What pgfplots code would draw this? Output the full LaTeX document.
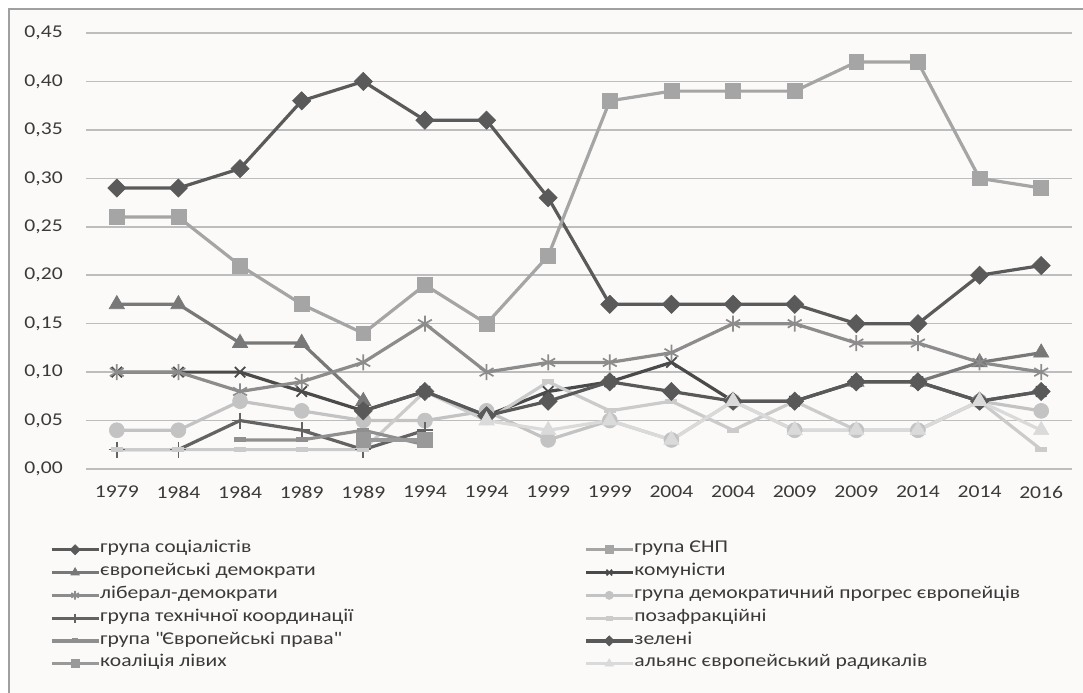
\documentclass[border=0pt]{standalone}
\usepackage{fontspec}
\setmainfont{Carlito}[FakeStretch=1.2]
\usepackage{pgfplots}
\usepackage{pgfplotstable}
\pgfplotsset{compat=1.18}
\pgfdeclarelayer{background}
\pgfsetlayers{background,main}
\definecolor{bgc}{HTML}{FCFAF8}
\definecolor{framec}{HTML}{A0A0A0}
\definecolor{gridc}{HTML}{BDBDBD}
\definecolor{textc}{HTML}{3A3A3A}
\definecolor{csoc}{HTML}{5A5A5A}
\definecolor{cenp}{HTML}{A5A5A5}
\definecolor{cedem}{HTML}{787878}
\definecolor{ccomm}{HTML}{4A4A4A}
\definecolor{clib}{HTML}{8C8C8C}
\definecolor{cprog}{HTML}{C3C3C3}
\definecolor{ctech}{HTML}{636363}
\definecolor{cnona}{HTML}{CBCBCB}
\definecolor{cright}{HTML}{8F8F8F}
\definecolor{cgreen}{HTML}{595959}
\definecolor{cleft}{HTML}{999999}
\definecolor{crad}{HTML}{DADADA}
\pgfplotstableread{
x soc enp edem comm lib prog tech nona eright green left rad
0 0.29 0.26 0.17 0.10 0.10 0.04 0.02 0.02 nan nan nan nan
1 0.29 0.26 0.17 0.10 0.10 0.04 0.02 0.02 nan nan nan nan
2 0.31 0.21 0.13 0.10 0.08 0.07 0.05 0.02 0.03 nan nan nan
3 0.38 0.17 0.13 0.08 0.09 0.06 0.04 0.02 0.03 nan nan nan
4 0.40 0.14 0.07 0.06 0.11 0.05 0.02 0.02 0.04 0.06 0.03 nan
5 0.36 0.19 nan 0.08 0.15 0.05 0.04 0.08 0.025 0.08 0.03 nan
6 0.36 0.15 nan 0.055 0.10 0.06 nan 0.05 nan 0.055 nan 0.05
7 0.28 0.22 nan 0.08 0.11 0.03 nan 0.09 nan 0.07 nan 0.04
8 0.17 0.38 nan 0.09 0.11 0.05 nan 0.06 nan 0.09 nan 0.05
9 0.17 0.39 nan 0.11 0.12 0.03 nan 0.07 nan 0.08 nan 0.03
10 0.17 0.39 nan 0.07 0.15 0.07 nan 0.04 nan 0.07 nan 0.07
11 0.17 0.39 nan 0.07 0.15 0.04 nan 0.07 nan 0.07 nan 0.04
12 0.15 0.42 0.09 0.09 0.13 0.04 nan 0.04 nan 0.09 nan 0.04
13 0.15 0.42 0.09 0.09 0.13 0.04 nan 0.04 nan 0.09 nan 0.04
14 0.20 0.30 0.11 0.07 0.11 0.07 nan 0.07 nan 0.07 nan 0.07
15 0.21 0.29 0.12 0.08 0.10 0.06 nan 0.02 nan 0.08 nan 0.04
}\data
\newcommand{\lc}[1]{\makebox[363pt][l]{#1}}
\begin{document}
\begin{tikzpicture}
\begin{axis}[
  name=ax,
  scale only axis, width=739.5pt, height=327pt,
  xmin=-0.5, xmax=15.5, ymin=0, ymax=0.45,
  unbounded coords=jump,
  axis line style={draw=none},
  major tick length=0pt,
  ymajorgrids, grid style={gridc, line width=1.2pt},
  ytick={0,0.05,0.1,0.15,0.2,0.25,0.3,0.35,0.4,0.45},
  yticklabel style={/pgf/number format/fixed, /pgf/number format/fixed zerofill, /pgf/number format/precision=2, /pgf/number format/use comma, /pgf/number format/assume math mode=true},
  xtick={0,...,15},
  xticklabels={1979,1984,1984,1989,1989,1994,1994,1999,1999,2004,2004,2009,2009,2014,2014,2016},
  tick label style={font=\fontsize{13.5}{16}\selectfont, text=textc},
  yticklabel style={inner sep=0pt, xshift=-17.25pt},
  xticklabel style={inner sep=0pt, yshift=-12.75pt},
  every axis plot/.append style={line width=2.4pt},
  legend columns=2,
  legend cell align=left,
  legend style={at={(-0.0365,-0.159)}, anchor=north west, draw=none, fill=none,
    inner sep=0pt, outer sep=0pt, column sep=0pt, row sep=0pt,
    font=\fontsize{13.5}{16}\selectfont, text=textc,
    nodes={inner sep=0pt, text height=11pt, text depth=6.1pt}},
  legend image code/.code={\draw[mark repeat=2, mark phase=2, #1] plot coordinates {(0pt,0pt) (17.6pt,0pt) (35.25pt,0pt)};},
  legend image post style={every mark/.append style={scale=0.55}},
]
\addplot[csoc, mark=square*, mark size=4.8pt, mark options={rotate=45, fill=csoc, draw=csoc, line width=0.5pt}] table[x=x,y=soc]{\data};
\addlegendentry{\lc{група соціалістів}}
\addplot[cenp, mark=square*, mark size=5.6pt, mark options={fill=cenp, draw=cenp, line width=0.5pt}] table[x=x,y=enp]{\data};
\addlegendentry{група ЄНП}
\addplot[cedem, mark=triangle*, mark size=6.6pt, mark options={fill=cedem, draw=cedem, line width=0.5pt}] table[x=x,y=edem]{\data};
\addlegendentry{\lc{європейські демократи}}
\addplot[ccomm, mark=x, mark size=5.5pt, mark options={draw=ccomm, line width=1.3pt}] table[x=x,y=comm]{\data};
\addlegendentry{комуністи}
\addplot[clib, mark=asterisk, mark size=6pt, mark options={draw=clib, line width=1.3pt}] table[x=x,y=lib]{\data};
\addlegendentry{\lc{ліберал-демократи}}
\addplot[cprog, mark=*, mark size=5.6pt, mark options={fill=cprog, draw=cprog, line width=0.5pt}] table[x=x,y=prog]{\data};
\addlegendentry{група демократичний прогрес європейців}
\addplot[ctech, mark=+, mark size=6pt, mark options={draw=ctech, line width=1.3pt}] table[x=x,y=tech]{\data};
\addlegendentry{\lc{група технічної координації}}
\addplot[cnona, mark=-, mark size=4.5pt, mark options={draw=cnona, line width=3.8pt}] table[x=x,y=nona]{\data};
\addlegendentry{позафракційні}
\addplot[cright, mark=-, mark size=4.5pt, mark options={draw=cright, line width=3.8pt}] table[x=x,y=eright]{\data};
\addlegendentry{\lc{група \textquotedbl Європейські права\textquotedbl}}
\addplot[cgreen, mark=square*, mark size=4.8pt, mark options={rotate=45, fill=cgreen, draw=cgreen, line width=0.5pt}] table[x=x,y=green]{\data};
\addlegendentry{зелені}
\addplot[cleft, mark=square*, mark size=5.6pt, mark options={fill=cleft, draw=cleft, line width=0.5pt}] table[x=x,y=left]{\data};
\addlegendentry{\lc{коаліція лівих}}
\addplot[crad, mark=triangle*, mark size=6.6pt, mark options={fill=crad, draw=crad, line width=0.5pt}] table[x=x,y=rad]{\data};
\addlegendentry{альянс європейський радикалів}
\end{axis}
\begin{scope}[shift={(ax.south west)}, x=0.75pt, y=0.75pt]
\pgfresetboundingbox
\path[use as bounding box] (-86,-224) rectangle (997,469);
\begin{pgfonlayer}{background}
\fill[white] (-86,-224) rectangle (997,469);
\begin{scope}
\clip (-86,-224) rectangle (997,469);
\filldraw[fill=bgc, draw=framec, line width=1.5pt] (-77,-234) rectangle (1009,460);
\end{scope}
\end{pgfonlayer}
\end{scope}
\end{tikzpicture}
\end{document}
